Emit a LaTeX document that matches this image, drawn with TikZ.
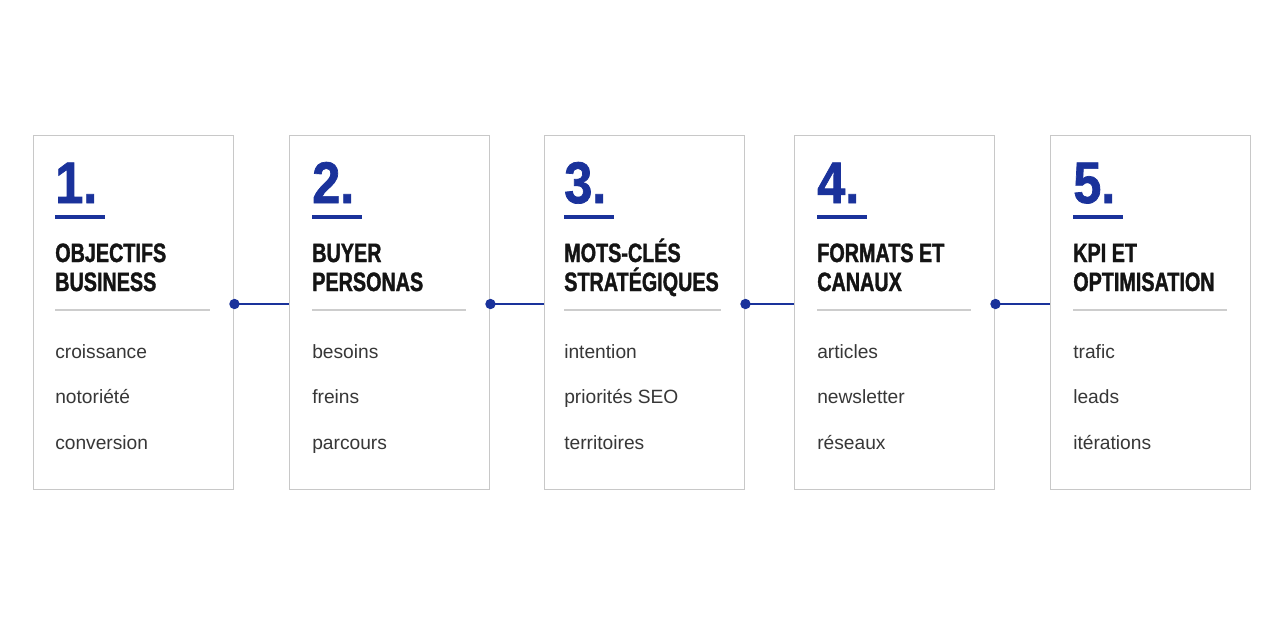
\documentclass[tikz,border=0pt]{standalone}
\usepackage{fontspec}
\setmainfont{Liberation Sans}
\newfontfamily\titlefont[FakeStretch=0.745,FakeBold=1.3]{Liberation Sans}
\newfontfamily\numfont[FakeStretch=0.86,FakeBold=1.2]{Liberation Sans}
\definecolor{accent}{RGB}{26,50,155}
\definecolor{boxline}{RGB}{200,200,200}
\definecolor{sepline}{RGB}{205,205,205}
\definecolor{itemtext}{RGB}{55,55,55}
\definecolor{titletext}{RGB}{20,20,20}
\begin{document}
\begin{tikzpicture}[x=0.75pt,y=-0.75pt,
  card/.style={draw=boxline,line width=1.1pt,fill=white,rectangle,anchor=north west,
    minimum width=150pt,minimum height=265.5pt,inner sep=0pt},
  numtxt/.style={anchor=base west,inner sep=0pt,text=accent,font=\numfont\bfseries\fontsize{44}{44}\selectfont},
  titletxt/.style={anchor=base west,inner sep=0pt,text=titletext,font=\titlefont\bfseries\fontsize{19.9}{21}\selectfont},
  itemtxt/.style={anchor=base west,inner sep=0pt,text=itemtext,font=\fontsize{14.4}{16}\selectfont},
  numbar/.style={draw=accent,line width=2.3pt},
  sep/.style={draw=sepline,line width=0.9pt},
  conn/.style={draw=accent,line width=1.6pt},
  dot/.style={fill=accent}]
\path[fill=white] (0,0) rectangle (1280,640);
\coordinate (row) at (0,304);
\foreach \i/\bx/\tx/\n/\ta/\tb/\ia/\ib/\ic in {
  1/33/55/1./OBJECTIFS/BUSINESS/croissance/notoriété/conversion,
  2/289/312/2./BUYER/PERSONAS/besoins/freins/parcours,
  3/544/564/3./MOTS-CLÉS/STRATÉGIQUES/intention/priorités SEO/territoires,
  4/794/817/4./FORMATS ET/CANAUX/articles/newsletter/réseaux,
  5/1050/1073/5./KPI ET/OPTIMISATION/trafic/leads/itérations}{
  \node[card] (b\i) at (\bx,135) {};
  \node[numtxt] (n\i) at (\tx,203) {\n};
  \coordinate (ua\i) at (\tx,217);
  \coordinate (ub\i) at (\tx+50,217);
  \draw[numbar] (ua\i) -- (ub\i);
  \node[titletxt] (ta\i) at (\tx,262) {\ta};
  \node[titletxt] (tb\i) at (\tx,291) {\tb};
  \coordinate (sa\i) at (\tx,310);
  \coordinate (sb\i) at (\bx+177,310);
  \draw[sep] (sa\i) -- (sb\i);
  \node[itemtxt] (ia\i) at (\tx,358) {\ia};
  \node[itemtxt] (ib\i) at (\tx,403) {\ib};
  \node[itemtxt] (ic\i) at (\tx,449) {\ic};
}
\foreach \a/\b in {1/2,2/3,3/4,4/5}{
  \draw[conn] (b\a.east |- row) -- (b\b.west |- row);
  \fill[dot] (b\a.east |- row) circle (3.9pt);
}
\end{tikzpicture}
\end{document}
